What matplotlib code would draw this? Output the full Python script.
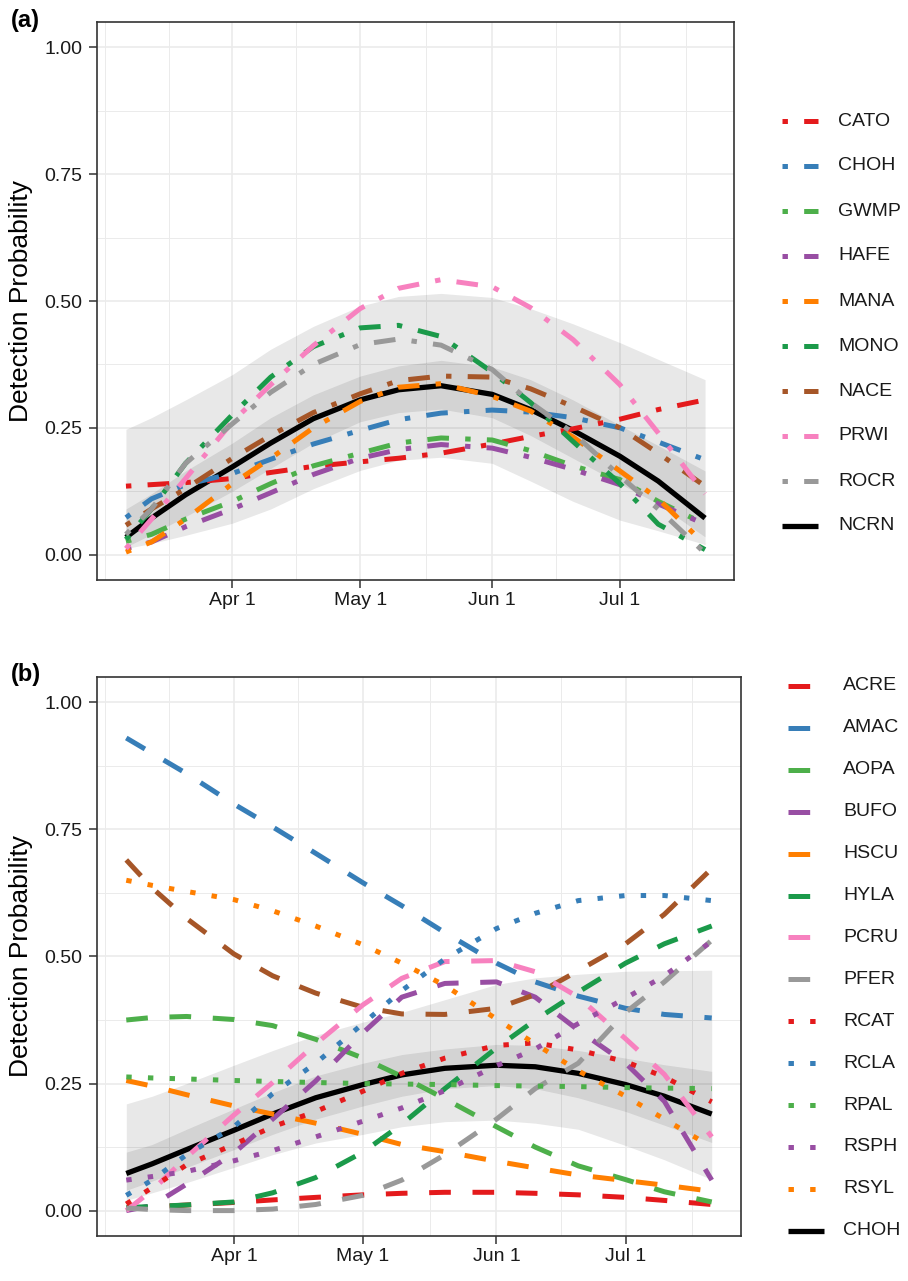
import numpy as np
import matplotlib
matplotlib.use("Agg")
import matplotlib.pyplot as plt
import matplotlib.dates as mdates
from matplotlib.lines import Line2D

plt.rcParams['font.family'] = ['Liberation Sans', 'DejaVu Sans']
plt.rcParams['lines.scale_dashes'] = False

# ---------------- data ----------------
days = [66, 72, 80, 91, 100, 110, 121, 130, 140, 152, 161, 171, 182, 191, 202]  # day of year

# panel (a): parks
parks_a = ['CATO', 'CHOH', 'GWMP', 'HAFE', 'MANA', 'MONO', 'NACE', 'PRWI', 'ROCR']
CATO = [0.135, 0.138, 0.142, 0.150, 0.162, 0.174, 0.183, 0.190, 0.200, 0.218, 0.233, 0.248, 0.267, 0.286, 0.305]
CHOH_a = [0.073, 0.110, 0.138, 0.160, 0.188, 0.218, 0.245, 0.266, 0.279, 0.285, 0.281, 0.270, 0.250, 0.222, 0.187]
GWMP = [0.026, 0.040, 0.070, 0.105, 0.140, 0.175, 0.200, 0.220, 0.230, 0.226, 0.205, 0.175, 0.148, 0.105, 0.060]
HAFE = [0.012, 0.025, 0.055, 0.090, 0.122, 0.158, 0.190, 0.207, 0.217, 0.210, 0.192, 0.168, 0.138, 0.100, 0.060]
MANA = [0.005, 0.025, 0.070, 0.140, 0.190, 0.250, 0.302, 0.330, 0.337, 0.312, 0.283, 0.232, 0.165, 0.110, 0.020]
MONO = [0.030, 0.090, 0.180, 0.276, 0.350, 0.410, 0.447, 0.452, 0.430, 0.360, 0.300, 0.223, 0.140, 0.060, 0.010]
NACE = [0.058, 0.090, 0.130, 0.190, 0.235, 0.280, 0.317, 0.343, 0.352, 0.350, 0.327, 0.292, 0.250, 0.200, 0.135]
PRWI = [0.012, 0.070, 0.150, 0.262, 0.335, 0.412, 0.485, 0.525, 0.542, 0.528, 0.487, 0.424, 0.335, 0.240, 0.120]
ROCR = [0.040, 0.090, 0.180, 0.258, 0.320, 0.375, 0.414, 0.425, 0.413, 0.365, 0.300, 0.240, 0.155, 0.090, 0.003]
NCRN = [0.034, 0.072, 0.118, 0.173, 0.220, 0.268, 0.305, 0.325, 0.333, 0.316, 0.286, 0.245, 0.194, 0.145, 0.072]
A_out_lo = [0.012, 0.022, 0.038, 0.062, 0.090, 0.130, 0.166, 0.186, 0.192, 0.180, 0.145, 0.105, 0.068, 0.047, 0.020]
A_out_hi = [0.247, 0.270, 0.305, 0.355, 0.405, 0.450, 0.490, 0.509, 0.515, 0.507, 0.485, 0.455, 0.418, 0.385, 0.345]
A_in_lo = [0.015, 0.040, 0.075, 0.125, 0.170, 0.220, 0.262, 0.280, 0.287, 0.270, 0.235, 0.190, 0.140, 0.100, 0.035]
A_in_hi = [0.090, 0.120, 0.165, 0.220, 0.270, 0.315, 0.352, 0.372, 0.383, 0.370, 0.345, 0.305, 0.255, 0.215, 0.165]

# panel (b): species
species_dashed = ['ACRE', 'AMAC', 'AOPA', 'BUFO', 'HSCU', 'HYLA', '_unlabeled', 'PCRU', 'PFER']
species_dotted = ['RCAT', 'RCLA', 'RPAL', 'RSPH', 'RSYL']
ACRE = [0.004, 0.007, 0.011, 0.016, 0.021, 0.026, 0.031, 0.034, 0.036, 0.036, 0.034, 0.031, 0.026, 0.020, 0.012]
AMAC = [0.930, 0.900, 0.860, 0.800, 0.755, 0.703, 0.645, 0.600, 0.547, 0.487, 0.450, 0.422, 0.398, 0.386, 0.379]
AOPA = [0.375, 0.380, 0.382, 0.376, 0.364, 0.337, 0.300, 0.264, 0.220, 0.165, 0.125, 0.088, 0.061, 0.037, 0.017]
BUFO = [0.000, 0.010, 0.052, 0.113, 0.180, 0.255, 0.350, 0.420, 0.447, 0.450, 0.420, 0.355, 0.290, 0.215, 0.060]
HSCU = [0.256, 0.245, 0.228, 0.206, 0.190, 0.172, 0.150, 0.130, 0.116, 0.097, 0.084, 0.070, 0.059, 0.050, 0.038]
HYLA = [0.006, 0.008, 0.011, 0.017, 0.035, 0.065, 0.115, 0.170, 0.240, 0.320, 0.375, 0.430, 0.487, 0.525, 0.560]
UNLAB = [0.690, 0.635, 0.575, 0.505, 0.462, 0.428, 0.400, 0.387, 0.386, 0.398, 0.425, 0.472, 0.525, 0.583, 0.673]
PCRU = [0.000, 0.040, 0.105, 0.188, 0.252, 0.328, 0.405, 0.457, 0.490, 0.492, 0.470, 0.420, 0.338, 0.268, 0.145]
PFER = [0.005, 0.002, 0.000, 0.000, 0.003, 0.012, 0.030, 0.060, 0.110, 0.180, 0.240, 0.290, 0.390, 0.450, 0.532]
RCAT = [0.013, 0.045, 0.090, 0.130, 0.165, 0.195, 0.235, 0.270, 0.300, 0.325, 0.330, 0.316, 0.293, 0.263, 0.214]
RCLA = [0.030, 0.060, 0.110, 0.165, 0.230, 0.290, 0.368, 0.433, 0.495, 0.555, 0.585, 0.610, 0.620, 0.620, 0.610]
RPAL = [0.263, 0.261, 0.259, 0.256, 0.254, 0.252, 0.250, 0.249, 0.248, 0.246, 0.245, 0.244, 0.242, 0.241, 0.240]
RSPH = [0.060, 0.067, 0.077, 0.098, 0.118, 0.145, 0.176, 0.202, 0.236, 0.285, 0.318, 0.368, 0.418, 0.462, 0.530]
RSYL = [0.650, 0.640, 0.628, 0.612, 0.590, 0.560, 0.523, 0.487, 0.443, 0.377, 0.328, 0.275, 0.225, 0.180, 0.125]
CHOH_b = [0.073, 0.092, 0.120, 0.158, 0.190, 0.222, 0.248, 0.267, 0.280, 0.286, 0.283, 0.270, 0.248, 0.225, 0.190]
B_out_lo = [0.020, 0.035, 0.055, 0.085, 0.110, 0.133, 0.150, 0.165, 0.175, 0.178, 0.172, 0.160, 0.128, 0.100, 0.061]
B_out_hi = [0.210, 0.225, 0.250, 0.286, 0.315, 0.345, 0.371, 0.390, 0.415, 0.445, 0.458, 0.465, 0.471, 0.472, 0.473]
B_in_lo = [0.040, 0.058, 0.085, 0.120, 0.150, 0.180, 0.206, 0.225, 0.240, 0.246, 0.240, 0.222, 0.195, 0.168, 0.134]
B_in_hi = [0.115, 0.130, 0.160, 0.200, 0.232, 0.265, 0.290, 0.307, 0.318, 0.327, 0.325, 0.315, 0.300, 0.287, 0.274]

xtick_days = [91, 121, 152, 182]
xtick_labels = ['Apr 1', 'May 1', 'Jun 1', 'Jul 1']
xminor_days = [61, 76, 106, 136.5, 167, 197.5]
ytick_vals = [0.0, 0.25, 0.5, 0.75, 1.0]
ytick_labels = ['0.00', '0.25', '0.50', '0.75', '1.00']

palette = ['#E41A1C', '#377EB8', '#4DAF4A', '#984EA3', '#FF7F00',
           '#1B9A4A', '#A65628', '#F781BF', '#999999']

# ---------------- styling ----------------
W, H = 908, 1281
u = 3.9  # dash unit in points
DOTDASH = (0, (u, 3 * u, 4 * u, 3 * u))
DASHED = (0, (4 * u, 4 * u))
DOTTED = (0, (u, 3 * u))
LW = 3.6
LWK = 3.8

base = np.datetime64('2021-01-01')
def to_dates(dlist):
    return mdates.date2num(base + np.array([np.timedelta64(int(round(d * 2)) , 'h') * 12 for d in dlist]) - np.timedelta64(1, 'D'))

x = to_dates(days)
xt = to_dates(xtick_days)
xm = to_dates(xminor_days)

fig = plt.figure(figsize=(W / 100, H / 100), dpi=100)
axA = fig.add_axes([97 / W, 1 - 580 / H, (734 - 97) / W, (580 - 22) / H])
axB = fig.add_axes([97 / W, 1 - 1236 / H, (741 - 97) / W, (1236 - 677) / H])

def style_axes(ax):
    ax.set_xlim(x[0] - 6.8, x[-1] + 6.8)
    ax.set_ylim(-0.05, 1.05)
    ax.set_xticks(xt)
    ax.set_xticklabels(xtick_labels)
    ax.set_xticks(xm, minor=True)
    ax.set_yticks(ytick_vals)
    ax.set_yticklabels(ytick_labels)
    ax.set_yticks([0.125, 0.375, 0.625, 0.875], minor=True)
    ax.grid(which='major', color='#EBEBEB', linewidth=1.2, zorder=0)
    ax.grid(which='minor', color='#EBEBEB', linewidth=0.7, zorder=0)
    ax.set_axisbelow(True)
    ax.tick_params(which='major', length=5.5, width=1.1, color='#333333',
                   labelsize=14, labelcolor='#1A1A1A')
    ax.tick_params(axis='y', which='major', pad=5)
    ax.tick_params(axis='x', which='major', pad=3)
    ax.tick_params(which='minor', length=0)
    for s in ax.spines.values():
        s.set_color('#333333')
        s.set_linewidth(1.2)

for ax in (axA, axB):
    style_axes(ax)

# ---- panel (a) ----
axA.fill_between(x, A_out_lo, A_out_hi, color='black', alpha=0.09, linewidth=0, zorder=1)
axA.fill_between(x, A_in_lo, A_in_hi, color='black', alpha=0.09, linewidth=0, zorder=1)
axA.plot(x, NCRN, color='black', linewidth=LWK, solid_capstyle='butt', zorder=2)
series_a = [CATO, CHOH_a, GWMP, HAFE, MANA, MONO, NACE, PRWI, ROCR]
for name, vals, col in zip(parks_a, series_a, palette):
    axA.plot(x, vals, color=col, linewidth=LW, linestyle=DOTDASH, label=name, zorder=3)

# ---- panel (b) ----
axB.fill_between(x, B_out_lo, B_out_hi, color='black', alpha=0.09, linewidth=0, zorder=1)
axB.fill_between(x, B_in_lo, B_in_hi, color='black', alpha=0.09, linewidth=0, zorder=1)
axB.plot(x, CHOH_b, color='black', linewidth=LWK, solid_capstyle='butt', zorder=2)
series_dashed = [ACRE, AMAC, AOPA, BUFO, HSCU, HYLA, UNLAB, PCRU, PFER]
for name, vals, col in zip(species_dashed, series_dashed, palette):
    axB.plot(x, vals, color=col, linewidth=LW, linestyle=DASHED, label=name, zorder=3)
series_dotted = [RCAT, RCLA, RPAL, RSPH, RSYL]
dotted_cols = [palette[0], palette[1], palette[2], palette[3], palette[4]]
for name, vals, col in zip(species_dotted, series_dotted, dotted_cols):
    axB.plot(x, vals, color=col, linewidth=LW, linestyle=DOTTED, label=name, zorder=3)

# ---- legends (drawn manually to match layout) ----
def legend_entry(y_px, x0_px, x1_px, xt_px, label, color, ls, lw):
    yf = 1 - y_px / H
    fig.add_artist(Line2D([x0_px / W, x1_px / W], [yf, yf], transform=fig.transFigure,
                          color=color, linestyle=ls, linewidth=lw, solid_capstyle='butt'))
    fig.text(xt_px / W, yf, label, fontsize=14, ha='left', va='center', color='#1A1A1A')

for i, (name, col) in enumerate(zip(parks_a, palette)):
    legend_entry(121 + 45 * i, 782, 818, 838, name, col, DOTDASH, LW)
legend_entry(121 + 45 * 9, 782, 818, 838, 'NCRN', 'black', '-', LWK)

entries_b = []
for name, col in zip(species_dashed, palette):
    if not name.startswith('_'):
        entries_b.append((name, col, DASHED, LW))
for name, col in zip(species_dotted, dotted_cols):
    entries_b.append((name, col, DOTTED, LW))
entries_b.append(('CHOH', 'black', '-', LWK))
for i, (name, col, ls, lw) in enumerate(entries_b):
    legend_entry(686 + 41.9 * i, 788, 824, 843, name, col, ls, lw)

# ---- axis titles and panel labels ----
fig.text(21 / W, 1 - 301 / H, 'Detection Probability', rotation=90, fontsize=19,
         ha='center', va='center', color='black')
fig.text(21 / W, 1 - 956 / H, 'Detection Probability', rotation=90, fontsize=19,
         ha='center', va='center', color='black')
fig.text(11 / W, 1 - 20 / H, '(a)', fontsize=17, fontweight='bold', ha='left', va='center')
fig.text(11 / W, 1 - 675 / H, '(b)', fontsize=17, fontweight='bold', ha='left', va='center')

fig.savefig('out.png', dpi=100, facecolor='white')
